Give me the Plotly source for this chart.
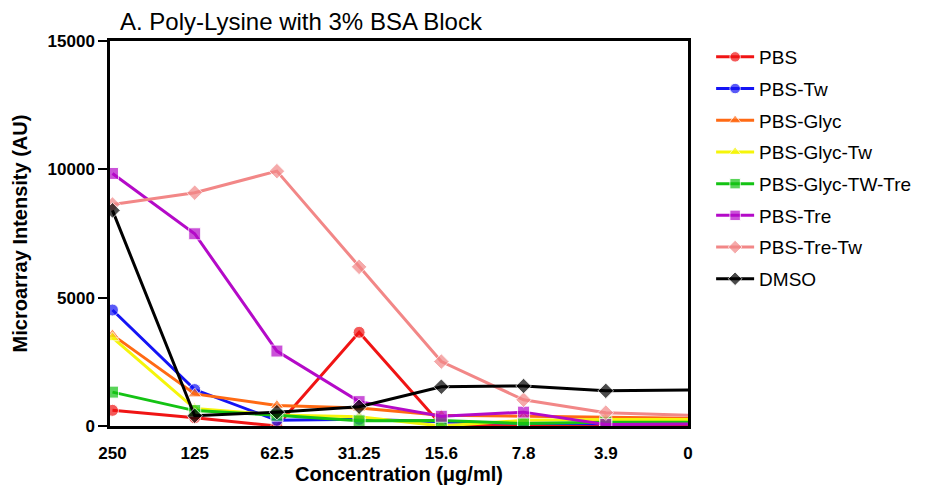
import plotly.graph_objects as go

# Concentration series (x categories) and microarray intensities per buffer
concentrations = ["250", "125", "62.5", "31.25", "15.6", "7.8", "3.9", "0"]

pbs = [610, 320, 0, 3650, 40, 0, 40, 50]
pbs_tw = [4520, 1420, 220, 260, 170, 110, 90, 100]
pbs_glyc = [3550, 1250, 800, 700, 420, 380, 320, 300]
pbs_glyc_tw = [3440, 680, 430, 360, 0, 220, 250, 250]
pbs_glyc_tw_tre = [1320, 600, 420, 200, 210, 100, 150, 150]
pbs_tre = [9840, 7490, 2920, 950, 380, 540, 60, 80]
pbs_tre_tw = [8630, 9090, 9930, 6200, 2510, 1020, 520, 420]
dmso = [8400, 400, 540, 750, 1530, 1560, 1370, 1400]

y_ticks = [0, 5000, 10000, 15000]
y_tick_labels = ["0", "5000", "10000", "15000"]

series_names = ["PBS", "PBS-Tw", "PBS-Glyc", "PBS-Glyc-Tw", "PBS-Glyc-TW-Tre",
                "PBS-Tre", "PBS-Tre-Tw", "DMSO"]
series_values = [pbs, pbs_tw, pbs_glyc, pbs_glyc_tw, pbs_glyc_tw_tre,
                 pbs_tre, pbs_tre_tw, dmso]
colors = ["#f01414", "#1414f5", "#ff6a14", "#f5f50a", "#14c314",
          "#b40ac8", "#f28787", "#000000"]
symbols = ["circle", "circle", "triangle-up", "triangle-up", "square",
           "square", "diamond", "diamond"]

FONT = "Liberation Sans, Arial, sans-serif"

fig = go.Figure()
for i, (name, vals) in enumerate(zip(series_names, series_values)):
    # last point sits on the right frame edge and is drawn without a marker
    sizes = [12] * (len(vals) - 1) + [0]
    fig.add_trace(go.Scatter(
        x=concentrations, y=vals, name=name, mode="lines+markers",
        line=dict(color=colors[i], width=3),
        marker=dict(symbol=symbols[i], size=sizes, color=colors[i]),
        legendgroup=name,
    ))

fig.update_layout(
    width=934, height=489,
    margin=dict(l=110, r=246, t=41, b=63, autoexpand=False),
    plot_bgcolor="white", paper_bgcolor="white",
    font=dict(family=FONT, color="black"),
    title=dict(text="A. Poly-Lysine with 3% BSA Block",
               font=dict(family=FONT, size=24, color="black"),
               xref="container", x=120 / 934, xanchor="left",
               yref="container", y=1 - 22 / 489, yanchor="middle"),
    legend=dict(x=1.04, y=1.0 + 3 / 385, xanchor="left", yanchor="top",
                font=dict(family=FONT, size=19, color="black"),
                tracegroupgap=4, itemwidth=38, maxheight=420,
                bgcolor="rgba(0,0,0,0)"),
    showlegend=True,
)

fig.update_xaxes(
    type="category", categoryorder="array", categoryarray=concentrations,
    range=[-0.03, 7], automargin=False,
    showline=True, linecolor="black", linewidth=2.5, mirror=True,
    ticks="", ticklabelstandoff=10, showgrid=False, zeroline=False,
    tickfont=dict(family=FONT, size=17, color="black", weight="bold"),
    title=dict(text="Concentration (\u03bcg/ml)", standoff=0,
               font=dict(family=FONT, size=20, color="black", weight="bold")),
)

fig.update_yaxes(
    range=[0, 15000], tickvals=y_ticks, ticktext=y_tick_labels,
    automargin=False,
    showline=True, linecolor="black", linewidth=2.5, mirror=True,
    ticks="outside", ticklen=9, tickwidth=2, tickcolor="black",
    showgrid=False, zeroline=False,
    tickfont=dict(family=FONT, size=17, color="black", weight="bold"),
    title=dict(text="Microarray Intensity (AU)", standoff=15,
               font=dict(family=FONT, size=20, color="black", weight="bold")),
)

fig.write_html("out.html")
